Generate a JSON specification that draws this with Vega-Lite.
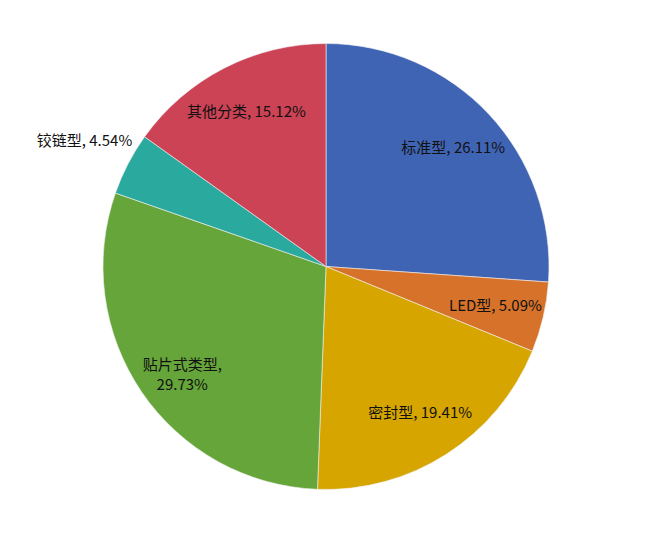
{
  "$schema": "https://vega.github.io/schema/vega-lite/v6.json",
  "width": 656,
  "height": 533,
  "autosize": {"type": "fit", "contains": "padding"},
  "padding": {"left": 0, "right": 4, "top": 0, "bottom": 0},
  "background": "white",
  "data": {
    "values": [
      {"idx": 1, "category": "标准型", "share": 26.11, "label": "标准型, 26.11%"},
      {"idx": 2, "category": "LED型", "share": 5.09, "label": "LED型, 5.09%"},
      {"idx": 3, "category": "密封型", "share": 19.41, "label": "密封型, 19.41%"},
      {"idx": 4, "category": "贴片式类型", "share": 29.73, "label": "贴片式类型,\n29.73%"},
      {"idx": 5, "category": "铰链型", "share": 4.54, "label": "铰链型, 4.54%"},
      {"idx": 6, "category": "其他分类", "share": 15.12, "label": "其他分类, 15.12%"}
    ]
  },
  "encoding": {
    "theta": {"field": "share", "type": "quantitative", "stack": true},
    "order": {"field": "idx", "type": "quantitative", "sort": "ascending"}
  },
  "layer": [
    {
      "mark": {"type": "arc", "radius": 223, "stroke": "#f2f2f2", "strokeWidth": 0.6},
      "encoding": {
        "color": {
          "field": "category",
          "type": "nominal",
          "legend": null,
          "scale": {
            "domain": ["标准型", "LED型", "密封型", "贴片式类型", "铰链型", "其他分类"],
            "range": ["#4064B4", "#D6722A", "#D6A500", "#66A53A", "#2AA99F", "#CB4355"]
          }
        }
      }
    },
    {
      "mark": {
        "type": "text",
        "radius": 174,
        "font": "Noto Sans CJK SC",
        "fontSize": 15,
        "lineBreak": "\n",
        "lineHeight": 20,
        "color": "#111111"
      },
      "encoding": {
        "text": {"field": "label"},
        "opacity": {"condition": {"test": "datum.category == '铰链型'", "value": 0}, "value": 1}
      }
    },
    {
      "mark": {
        "type": "text",
        "radius": 272,
        "font": "Noto Sans CJK SC",
        "fontSize": 15,
        "color": "#111111"
      },
      "encoding": {
        "text": {"field": "label"},
        "opacity": {"condition": {"test": "datum.category == '铰链型'", "value": 1}, "value": 0}
      }
    }
  ],
  "config": {"view": {"stroke": null}}
}
